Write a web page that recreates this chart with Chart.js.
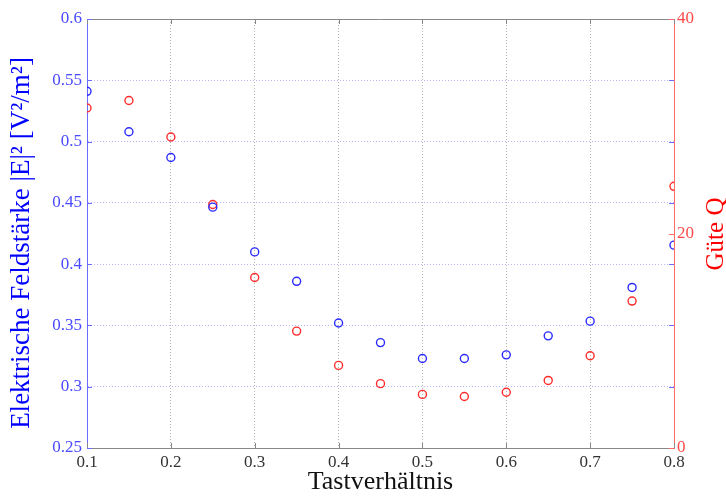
<!DOCTYPE html>
<html>
<head>
<meta charset="utf-8">
<script src="https://cdn.jsdelivr.net/npm/chart.js@4/dist/chart.umd.min.js"></script>
<style>
  body { margin: 0; background: #fff; }
  #wrap { width: 726px; height: 500px; }
</style>
</head>
<body>
<div id="wrap"><canvas id="chart"></canvas></div>
<script>
// data
const dutyCycle = [0.1, 0.15, 0.2, 0.25, 0.3, 0.35, 0.4, 0.45, 0.5, 0.55, 0.6, 0.65, 0.7, 0.75, 0.8]
const fieldStrength = [0.541, 0.508, 0.487, 0.4465, 0.410, 0.386, 0.352, 0.336, 0.323, 0.323, 0.326, 0.3415, 0.3535, 0.381, 0.4155]
const qualityQ = [31.7, 32.4, 29.0, 22.7, 15.9, 10.9, 7.7, 6.0, 5.0, 4.8, 5.2, 6.3, 8.6, 13.7, 24.4]

const leftTitle = 'Elektrische Feldstärke |E|² [V²/m²]'
const rightTitle = 'Güte Q'

const serif = '"Liberation Serif", "Times New Roman", serif'
const blue = '#0000ff'
const red = '#ff0000'

const toPoints = (xs, ys) => xs.map((x, i) => ({ x, y: ys[i] }))

// rotated text, reading bottom to top
const drawUpText = (ctx, text, x, y, color, size) => {
    ctx.save()
    ctx.fillStyle = color
    ctx.font = size + 'px ' + serif
    ctx.textAlign = 'center'
    ctx.textBaseline = 'middle'
    ctx.translate(x, y)
    ctx.rotate(-Math.PI / 2)
    ctx.fillText(text, 0, 0)
    ctx.restore()
}

// small inward tick marks, top frame line and the two y titles
const framePlugin = {
    id: 'frame',
    afterDraw(chart) {
        const { ctx, chartArea: a, scales } = chart
        ctx.save()
        ctx.lineWidth = 1

        ctx.strokeStyle = '#888'
        ctx.beginPath(); ctx.moveTo(a.left, a.top + 0.5); ctx.lineTo(a.right, a.top + 0.5); ctx.stroke()

        scales.x.ticks.forEach(t => {
            const px = Math.round(scales.x.getPixelForValue(t.value)) + 0.5
            ctx.beginPath()
            ctx.moveTo(px, a.bottom); ctx.lineTo(px, a.bottom - 5)
            ctx.moveTo(px, a.top); ctx.lineTo(px, a.top + 5)
            ctx.stroke()
        })

        ctx.strokeStyle = '#6b6bff'
        scales.y.ticks.forEach(t => {
            const py = Math.round(scales.y.getPixelForValue(t.value)) + 0.5
            ctx.beginPath()
            ctx.moveTo(a.left, py); ctx.lineTo(a.left + 5, py)
            ctx.moveTo(a.right, py); ctx.lineTo(a.right - 5, py)
            ctx.stroke()
        })

        ctx.strokeStyle = '#ff6b6b'
        scales.y1.ticks.forEach(t => {
            const py = Math.round(scales.y1.getPixelForValue(t.value)) + 0.5
            ctx.beginPath(); ctx.moveTo(a.right, py); ctx.lineTo(a.right - 5, py); ctx.stroke()
        })
        ctx.restore()

        drawUpText(ctx, leftTitle, 22, 243, blue, 27)
        drawUpText(ctx, rightTitle, 716, 234, red, 25)
    }
}

const data = {
    datasets: [{
        label: 'E',
        data: toPoints(dutyCycle, fieldStrength),
        yAxisID: 'y',
        borderColor: '#2b2bff',
        backgroundColor: 'transparent',
        pointRadius: 4,
        pointBorderWidth: 1.4,
        showLine: false
    }, {
        label: 'Q',
        data: toPoints(dutyCycle, qualityQ),
        yAxisID: 'y1',
        borderColor: '#ff2b2b',
        backgroundColor: 'transparent',
        pointRadius: 4,
        pointBorderWidth: 1.4,
        showLine: false
    }]
}

const options = {
    responsive: true,
    maintainAspectRatio: false,
    animation: false,
    layout: { padding: { top: 19, left: 0, right: 0, bottom: 0 } },
    plugins: {
        legend: { display: false },
        tooltip: { enabled: false }
    },
    scales: {
        x: {
            type: 'linear',
            min: 0.1, max: 0.8,
            afterFit: s => { s.height = 52 },
            ticks: {
                stepSize: 0.1,
                padding: 4,
                color: '#333',
                font: { family: serif, size: 17 },
                callback: v => String(Math.round(v * 10) / 10)
            },
            grid: { color: '#b4b4b4', drawTicks: false },
            border: { color: '#888', dash: [1, 2] },
            title: {
                display: true,
                text: 'Tastverhältnis',
                color: '#111',
                font: { family: serif, size: 26 },
                padding: { top: 0, bottom: 2 }
            }
        },
        y: {
            position: 'left',
            min: 0.25, max: 0.6,
            afterFit: s => { s.width = 87 },
            ticks: {
                stepSize: 0.05,
                padding: 5,
                color: '#4a4aff',
                font: { family: serif, size: 17 },
                callback: v => String(Math.round(v * 100) / 100)
            },
            grid: { color: '#b8b8ff', drawTicks: false },
            border: { color: '#6b6bff', dash: [1, 2] }
        },
        y1: {
            position: 'right',
            min: 0, max: 40,
            afterFit: s => { s.width = 52 },
            ticks: {
                stepSize: 20,
                padding: 3,
                color: '#ff4a4a',
                font: { family: serif, size: 17 }
            },
            grid: { drawOnChartArea: false, drawTicks: false },
            border: { color: '#ff6b6b' }
        }
    }
}

new Chart('chart', { type: 'scatter', data, options, plugins: [framePlugin] })
</script>
</body>
</html>
